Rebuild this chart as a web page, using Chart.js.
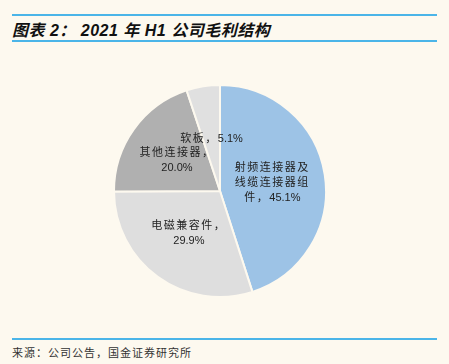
<!DOCTYPE html>
<html>
<head>
<meta charset="utf-8">
<script src="https://cdn.jsdelivr.net/npm/chart.js@4"></script>
<style>
  html, body { margin: 0; padding: 0; }
  body { width: 449px; height: 364px; background: #fdf9ef; position: relative; overflow: hidden;
         font-family: "Liberation Sans", "Noto Sans CJK SC", sans-serif; }
  .rule { position: absolute; left: 12px; width: 425px; height: 2px; background: #4bb5e8; }
  #title { position: absolute; left: 12px; top: 17px; font-size: 16px; font-weight: bold; font-style: italic;
           color: #111; white-space: nowrap; letter-spacing: 0.5px; }
  #source { position: absolute; left: 12px; top: 344px; font-size: 11px; color: #333;
            font-family: "Noto Sans CJK SC", sans-serif; letter-spacing: 1px; }
  #chart { position: absolute; left: 112px; top: 83px; }
</style>
</head>
<body>
<div class="rule" style="top:14px"></div>
<div id="title">图表 2：&nbsp;2021 年 H1 公司毛利结构</div>
<div class="rule" style="top:40px"></div>
<canvas id="chart" width="216" height="216"></canvas>
<div class="rule" style="top:338px"></div>
<div id="source">来源：公司公告，国金证券研究所</div>

<script>
// categories (label lines) and shares in %
const categories = [
	['射频连接器及', '线缆连接器组', '件，'],
	['电磁兼容件，', ''],
	['其他连接器，', ''],
	['软板，']
];
const shares = [45.1, 29.9, 20.0, 5.1];
const sliceColors = ['#9dc3e6', '#dedede', '#b0b0b0', '#e0e0e0'];

// draws the labels at the middle of each slice (Chinese spaced, numbers not)
const sliceLabels = {
	id: 'sliceLabels',
	afterDatasetsDraw(chart) {
		const ctx = chart.ctx;
		const arcs = chart.getDatasetMeta(0).data;
		ctx.save();
		ctx.fillStyle = '#222';
		ctx.textAlign = 'left';
		ctx.textBaseline = 'middle';
		ctx.font = '11px "Liberation Sans", "Noto Sans CJK SC", sans-serif';
		arcs.forEach(function (arc, i) {
			const p = arc.getCenterPoint();
			const lines = categories[i].map(t => [t, '']);
			lines[lines.length - 1][1] = shares[i].toFixed(1) + '%';
			const lh = 15;
			const y0 = p.y - (lines.length - 1) * lh / 2;
			lines.forEach(function (parts, k) {
				ctx.letterSpacing = '1.5px';
				const w1 = parts[0] ? ctx.measureText(parts[0]).width : 0;
				ctx.letterSpacing = '0px';
				const w2 = parts[1] ? ctx.measureText(parts[1]).width : 0;
				let x = p.x - (w1 + w2) / 2;
				ctx.letterSpacing = '1.5px';
				if (parts[0]) ctx.fillText(parts[0], x, y0 + k * lh);
				ctx.letterSpacing = '0px';
				if (parts[1]) ctx.fillText(parts[1], x + w1, y0 + k * lh);
			});
		});
		ctx.restore();
	}
};

new Chart(document.getElementById('chart').getContext('2d'), {
	type: 'pie',
	data: {
		labels: categories.map(c => c.join('')),
		datasets: [{
			data: shares,
			backgroundColor: sliceColors,
			borderColor: '#fdf9ef',
			borderWidth: 2
		}]
	},
	options: {
		responsive: false,
		animation: false,
		layout: { padding: 1 },
		plugins: {
			legend: { display: false },
			tooltip: { enabled: false }
		}
	},
	plugins: [sliceLabels]
});
</script>
</body>
</html>
